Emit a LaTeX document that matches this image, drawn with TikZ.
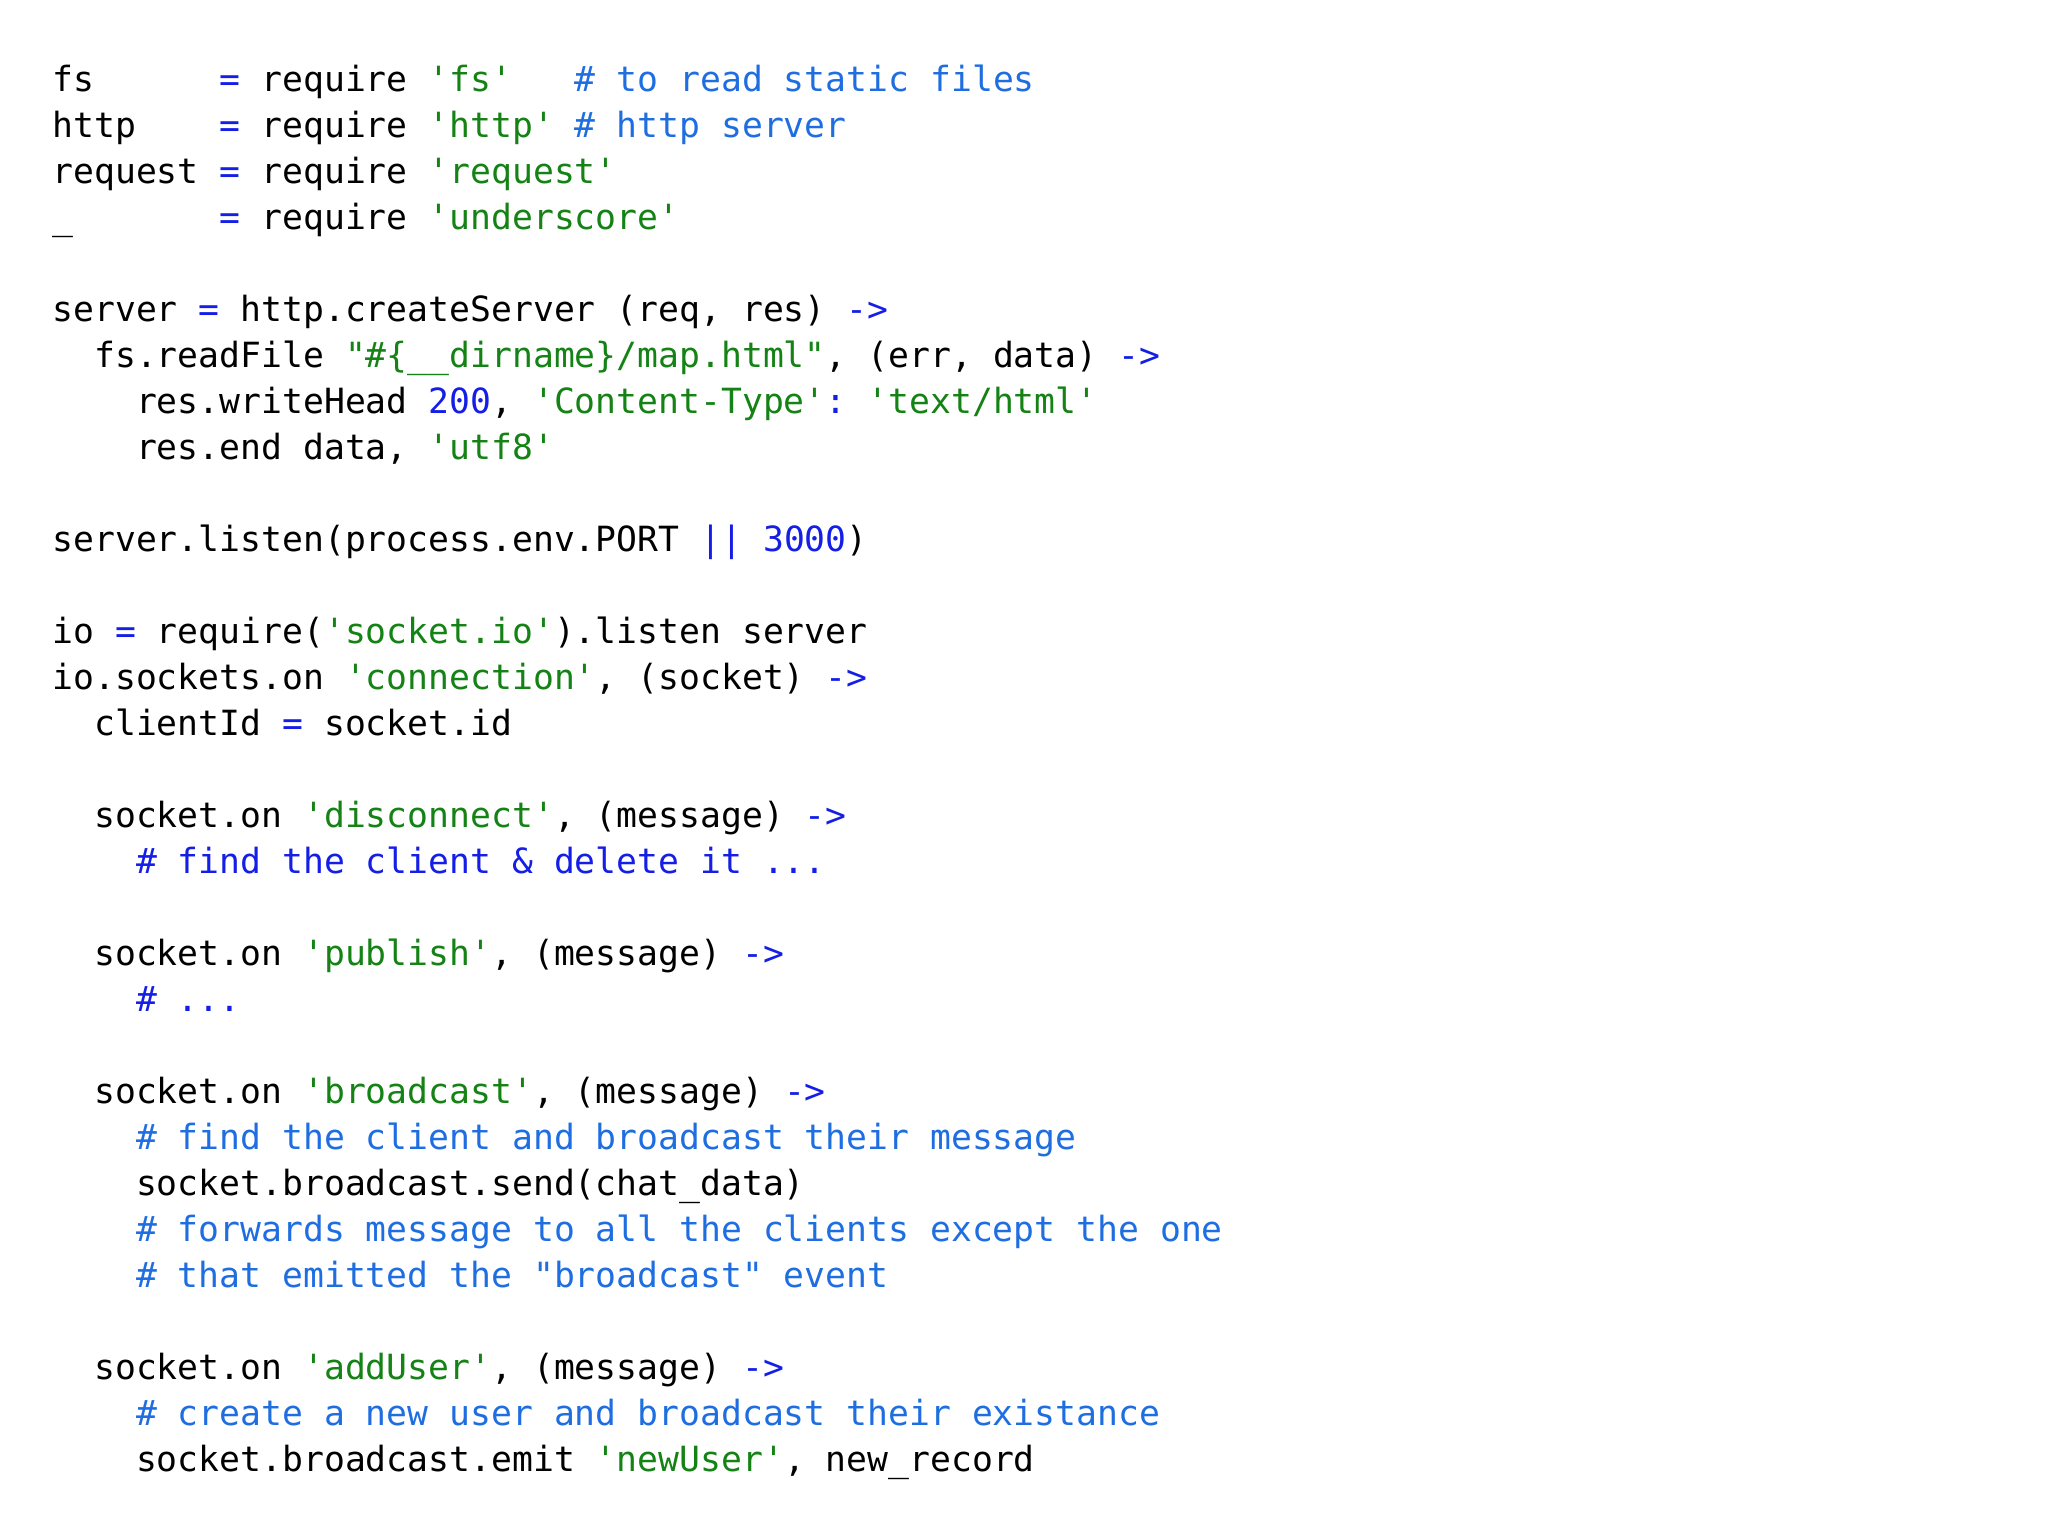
\documentclass[tikz,border=0pt]{standalone}
\usepackage{fontspec}
\setmonofont{DejaVu Sans Mono}
\definecolor{strc}{RGB}{20,130,20}
\definecolor{kwc}{RGB}{20,30,230}
\definecolor{cmc}{RGB}{30,110,225}
\newcommand{\Sg}[1]{\textcolor{strc}{#1}}
\newcommand{\Kw}[1]{\textcolor{kwc}{#1}}
\newcommand{\Cm}[1]{\textcolor{cmc}{#1}}
\begin{document}
\begin{tikzpicture}[x=1pt,y=1pt,codeline/.style={anchor=base west,inner sep=0pt,font=\ttfamily\fontsize{17.36}{23}\selectfont}]
\useasboundingbox (0,0) rectangle (1024,-768);
\newcommand{\Ln}[3]{\node[codeline] (#1) at (26,{-(45.5+23*#2)}) {#3};}
\Ln{l0}{0}{fs\ \ \ \ \ \ \Kw{=} require \Sg{'fs'}\ \ \ \Cm{\# to read static files}}
\Ln{l1}{1}{http\ \ \ \ \Kw{=} require \Sg{'http'} \Cm{\# http server}}
\Ln{l2}{2}{request \Kw{=} require \Sg{'request'}}
\Ln{l3}{3}{\_\ \ \ \ \ \ \ \Kw{=} require \Sg{'underscore'}}
\Ln{l5}{5}{server \Kw{=} http.createServer (req, res) \Kw{->}}
\Ln{l6}{6}{\ \ fs.readFile \Sg{"\#\{\_\_dirname\}/map.html"}, (err, data) \Kw{->}}
\Ln{l7}{7}{\ \ \ \ res.writeHead \Kw{200}, \Sg{'Content-Type'}\Kw{:} \Sg{'text/html'}}
\Ln{l8}{8}{\ \ \ \ res.end data, \Sg{'utf8'}}
\Ln{l10}{10}{server.listen(process.env.PORT \Kw{||} \Kw{3000})}
\Ln{l12}{12}{io \Kw{=} require(\Sg{'socket.io'}).listen server}
\Ln{l13}{13}{io.sockets.on \Sg{'connection'}, (socket) \Kw{->}}
\Ln{l14}{14}{\ \ clientId \Kw{=} socket.id}
\Ln{l16}{16}{\ \ socket.on \Sg{'disconnect'}, (message) \Kw{->}}
\Ln{l17}{17}{\ \ \ \ \Kw{\# find the client \& delete it ...}}
\Ln{l19}{19}{\ \ socket.on \Sg{'publish'}, (message) \Kw{->}}
\Ln{l20}{20}{\ \ \ \ \Kw{\# ...}}
\Ln{l22}{22}{\ \ socket.on \Sg{'broadcast'}, (message) \Kw{->}}
\Ln{l23}{23}{\ \ \ \ \Cm{\# find the client and broadcast their message}}
\Ln{l24}{24}{\ \ \ \ socket.broadcast.send(chat\_data)}
\Ln{l25}{25}{\ \ \ \ \Cm{\# forwards message to all the clients except the one}}
\Ln{l26}{26}{\ \ \ \ \Cm{\# that emitted the "broadcast" event}}
\Ln{l28}{28}{\ \ socket.on \Sg{'addUser'}, (message) \Kw{->}}
\Ln{l29}{29}{\ \ \ \ \Cm{\# create a new user and broadcast their existance}}
\Ln{l30}{30}{\ \ \ \ socket.broadcast.emit \Sg{'newUser'}, new\_record}
\end{tikzpicture}
\end{document}
